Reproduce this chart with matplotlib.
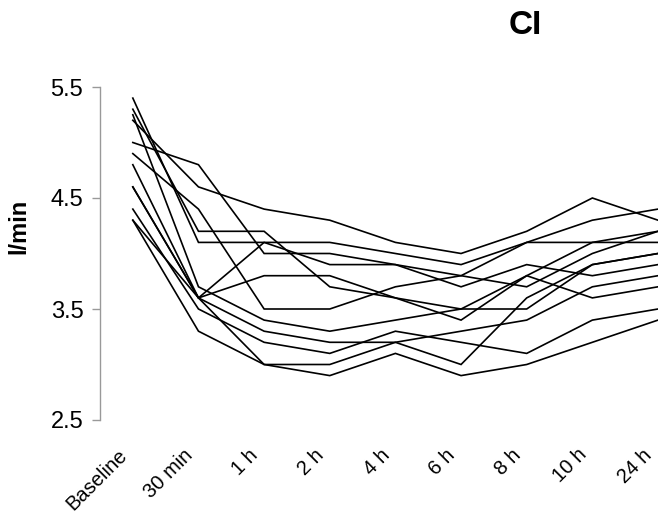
import matplotlib
matplotlib.use("Agg")
import matplotlib.pyplot as plt
import matplotlib.transforms as mtransforms

times = ["Baseline", "30 min", "1 h", "2 h", "4 h", "6 h", "8 h", "10 h", "24 h"]

p1 = [5.2, 4.6, 4.4, 4.3, 4.1, 4.0, 4.2, 4.5, 4.3]
p2 = [5.4, 4.1, 4.1, 4.1, 4.0, 3.9, 4.1, 4.3, 4.4]
p3 = [5.3, 4.2, 4.2, 3.7, 3.6, 3.5, 3.8, 4.1, 4.2]
p4 = [5.0, 4.8, 4.0, 4.0, 3.9, 3.8, 4.1, 4.1, 4.1]
p5 = [4.6, 3.6, 4.1, 3.9, 3.9, 3.7, 3.9, 3.8, 3.9]
p6 = [4.3, 3.6, 3.8, 3.8, 3.6, 3.4, 3.8, 3.6, 3.7]
p7 = [4.9, 4.4, 3.5, 3.5, 3.7, 3.8, 3.7, 4.0, 4.2]
p8 = [5.25, 3.7, 3.4, 3.3, 3.4, 3.5, 3.5, 3.9, 4.0]
p9 = [4.8, 3.6, 3.3, 3.2, 3.2, 3.3, 3.4, 3.7, 3.8]
p10 = [4.4, 3.5, 3.2, 3.1, 3.3, 3.2, 3.1, 3.4, 3.5]
p11 = [4.3, 3.3, 3.0, 2.9, 3.1, 2.9, 3.0, 3.2, 3.4]
p12 = [4.6, 3.6, 3.0, 3.0, 3.2, 3.0, 3.6, 3.9, 4.0]
patients = [p1, p2, p3, p4, p5, p6, p7, p8, p9, p10, p11, p12]

yticks = [2.5, 3.5, 4.5, 5.5]

plt.rcParams['font.family'] = ['Liberation Sans', 'DejaVu Sans']

fig = plt.figure(figsize=(6.58, 5.15), dpi=100)
ax = fig.add_axes([100/658, 1 - 420/515, 558/658, 333/515])

x = list(range(len(times)))
for p in patients:
    ax.plot(x, p, color='black', linewidth=1.2, solid_joinstyle='miter')

ax.set_xlim(-0.5, 8.0)
ax.set_ylim(2.5, 5.5)
ax.set_yticks(yticks)
ax.set_yticklabels([f"{v:.1f}" for v in yticks], fontsize=17)
ax.set_xticks(x)
ax.set_xticklabels([])

# x labels: rotated, placed just below the plot, shifted slightly left of each tick
offset = mtransforms.ScaledTranslation(-9/100, -32/100, fig.dpi_scale_trans)
trans = ax.get_xaxis_transform() + offset
for xi, t in zip(x, times):
    ax.text(xi, 0, t, transform=trans, fontsize=14.5, rotation=45,
            ha='right', va='center', rotation_mode='anchor', clip_on=False)

for s in ['top', 'right', 'bottom']:
    ax.spines[s].set_visible(False)
ax.spines['left'].set_color('#999999')
ax.spines['left'].set_linewidth(1.0)
ax.tick_params(axis='y', colors='#999999', labelcolor='black', length=6, width=1.0, pad=6)
ax.tick_params(axis='x', length=0)

fig.text(19/658, 1 - 226/515, "l/min", rotation=90, fontsize=17, fontweight='bold',
         ha='center', va='center')
fig.text(525/658, 1 - 25/515, "CI", fontsize=24, fontweight='bold', ha='center', va='center')

fig.savefig("out.png", dpi=100)
